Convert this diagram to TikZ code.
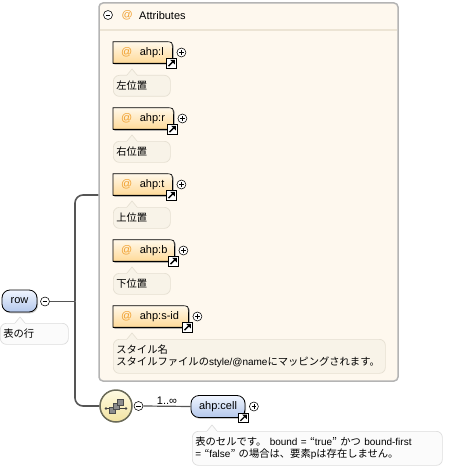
\documentclass[tikz,border=0pt]{standalone}
\usepackage{fontspec}
\setmainfont{Liberation Sans}
\newfontfamily\jpfont{Noto Sans CJK JP}
\usetikzlibrary{calc,shadows}
\pgfdeclarelayer{back}
\pgfdeclarelayer{bg}
\pgfsetlayers{back,bg,main}
\definecolor{panelfill}{HTML}{FEF8EE}
\definecolor{panelline}{HTML}{B4B4B4}
\definecolor{sepline}{HTML}{ECE4D4}
\definecolor{atcol}{HTML}{F0A030}
\definecolor{attrtop}{HTML}{FFF8EA}
\definecolor{attrbot}{HTML}{FFDA98}
\definecolor{eltop}{HTML}{F0F5FF}
\definecolor{elbot}{HTML}{B4C8EC}
\definecolor{annfill}{HTML}{F8F3E8}
\definecolor{annline}{HTML}{E6E0D2}
\definecolor{anntwofill}{HTML}{FBFBFB}
\definecolor{anntwoline}{HTML}{DDDDDD}
\definecolor{connc}{HTML}{555555}
\definecolor{seqtop}{HTML}{FFFBE2}
\definecolor{seqbot}{HTML}{F2E2A0}
\definecolor{seqline}{HTML}{6A6A58}
\definecolor{sqfill}{HTML}{8C8C8C}
\newcommand{\jp}[1]{{\jpfont\fontsize{10.3}{14}\selectfont #1}}
\newcommand{\lt}[1]{{\fontsize{10}{14}\selectfont #1}}
\newcommand{\attrlabel}[2]{\makebox[#1][l]{\textcolor{atcol}{@}\hspace{7.5pt}#2}}
\newcommand{\attrpath}[1]{(#1.south west) -- (#1.north west) -- ([xshift=-7pt]#1.north east) .. controls (#1.north east) .. ([yshift=-7pt]#1.north east) -- (#1.south east) -- cycle}
\newcommand{\attrshape}[1]{%
  \fill[black!45, transform canvas={shift={(1.3pt,-1.3pt)}}] \attrpath{#1};
  \shade[top color=attrtop, bottom color=attrbot] \attrpath{#1};
  \draw[black, line width=0.7pt] \attrpath{#1};
  \draw[black, line width=1.3pt] (#1.south west) -- (#1.south east);
}
\newcommand{\annptr}[4]{%
  \fill[#3] ($(#1.north west)+(#2-5,0.8)$) -- ($(#1.north west)+(#2,-6)$) -- ($(#1.north west)+(#2+5,0.8)$) -- cycle;
  \draw[#4, line width=0.7pt] ($(#1.north west)+(#2-5,0)$) -- ($(#1.north west)+(#2,-6)$) -- ($(#1.north west)+(#2+5,0)$);
}
\tikzset{
  conn/.style={draw=connc, line width=1.6pt},
  pmbase/.style={circle, draw=black, fill=white, line width=0.55pt, minimum size=9pt, inner sep=0pt},
  minusic/.style={pmbase, path picture={\draw[line width=0.6pt] ([xshift=-2.4pt]path picture bounding box.center) -- ([xshift=2.4pt]path picture bounding box.center);}},
  plusic/.style={pmbase, path picture={\draw[line width=0.6pt] ([xshift=-2.4pt]path picture bounding box.center) -- ([xshift=2.4pt]path picture bounding box.center) ([yshift=-2.4pt]path picture bounding box.center) -- ([yshift=2.4pt]path picture bounding box.center);}},
  linkic/.style={rectangle, draw=black, fill=white, line width=0.6pt, minimum size=9.5pt, inner sep=0pt,
    path picture={\fill[black] ([xshift=-1.4pt,yshift=-1.4pt]path picture bounding box.north east) -- ++(-4.6pt,0pt) -- ++(4.6pt,-4.6pt) -- cycle;
      \draw[black,line width=1.3pt] ([xshift=1.8pt,yshift=1.8pt]path picture bounding box.south west) -- ([xshift=-3pt,yshift=-3pt]path picture bounding box.north east);}},
  attrbox/.style={inner xsep=8pt, inner ysep=0pt, minimum height=21pt, anchor=west, font=\fontsize{11}{13}\selectfont},
  elbox/.style={rounded corners=8pt, top color=eltop, bottom color=elbot, draw=black, line width=0.8pt, minimum height=22pt, inner xsep=0pt, font=\fontsize{11}{13}\selectfont, drop shadow={shadow xshift=1pt, shadow yshift=-1.3pt, opacity=0.45}},
  annin/.style={rounded corners=6pt, fill=annfill, draw=annline, line width=0.7pt, anchor=north west, align=left, inner xsep=3pt, inner ysep=2pt, minimum height=21pt},
  annout/.style={rounded corners=6pt, fill=anntwofill, draw=anntwoline, line width=0.7pt, anchor=north west, align=left, inner xsep=3pt, inner ysep=2pt, minimum height=21pt},
  lbl/.style={inner sep=0pt, font=\fontsize{11}{13}\selectfont}
}
\begin{document}
\begin{tikzpicture}[x=1pt,y=-1pt]
\useasboundingbox (0,0) rectangle (466,468);
% panel
\begin{pgfonlayer}{back}
\node[draw=panelline, fill=panelfill, line width=1.5pt, rounded corners=4pt, minimum width=299pt, minimum height=378pt, inner sep=0pt] (attrs) at (248.5,192) {};
\draw[sepline, line width=1.2pt] (99.5,30) -- (397,30);
\end{pgfonlayer}
\node[minusic] (attrm) at (108,15) {};
\node[lbl, text=atcol, anchor=west] (attrat) at (121.5,15.5) {@};
\node[lbl, anchor=west] (attrt) at (139,15.5) {Attributes};
% attributes
\node[attrbox] (al) at (113,52.5) {\attrlabel{43pt}{ahp:l}};
\node[attrbox] (ar) at (113,118.5) {\attrlabel{44pt}{ahp:r}};
\node[attrbox] (at) at (113,184.5) {\attrlabel{43pt}{ahp:t}};
\node[attrbox] (ab) at (113,250.5) {\attrlabel{45pt}{ahp:b}};
\node[attrbox] (as) at (113,316.5) {\attrlabel{59pt}{ahp:s-id}};
\begin{pgfonlayer}{bg}
\attrshape{al}\attrshape{ar}\attrshape{at}\attrshape{ab}\attrshape{as}
\end{pgfonlayer}
\foreach \n in {al,ar,at,ab,as}{
  \node[linkic] (\n k) at ($(\n.south east)+(-1,0)$) {};
  \node[plusic] (\n p) at ($(\n.east)+(9,0)$) {};
}
% annotations in panel
\node[annin, text width=51pt] (ala) at (113,75) {\jp{左位置}};
\node[annin, text width=51pt] (ara) at (113,141) {\jp{右位置}};
\node[annin, text width=51pt] (ata) at (113,207) {\jp{上位置}};
\node[annin, text width=51pt] (aba) at (113,273) {\jp{下位置}};
\node[annin, text width=266pt, minimum height=34pt] (asa) at (113,339) {\jp{スタイル名}\\\jp{スタイルファイルの}\lt{style/@name}\jp{にマッピングされます。}};
\foreach \n in {ala,ara,ata,aba,asa}{\annptr{\n}{19}{annfill}{annline}}
% row
\node[elbox, minimum width=35pt] (row) at (19.5,301) {row};
\node[minusic] (rowm) at (45,301.5) {};
\node[annout, text width=62pt] (rowa) at (0,323) {\jp{表の行}};
\annptr{rowa}{20}{anntwofill}{anntwoline}
% sequence
\node[circle, minimum size=32pt, inner sep=0pt, top color=seqtop, bottom color=seqbot, draw=seqline, line width=1.5pt] (seq) at (116,406) {};
\draw[black!75, line width=0.8pt] ($(seq)+(-10,2.5)$) -- ($(seq)+(10,2.5)$);
\fill[black!75] ($(seq)+(-10,2.5)$) circle[radius=1.3pt] ($(seq)+(10,2.5)$) circle[radius=1.3pt];
\filldraw[fill=sqfill, draw=black!70, line width=0.5pt] ($(seq)+(-7,1)$) rectangle ($(seq)+(-1,7)$);
\filldraw[fill=sqfill, draw=black!70, line width=0.5pt] ($(seq)+(-3,-3)$) rectangle ($(seq)+(3,3)$);
\filldraw[fill=sqfill, draw=black!70, line width=0.5pt] ($(seq)+(1,-7)$) rectangle ($(seq)+(7,-1)$);
\node[minusic] (seqm) at (138.5,406) {};
% cell
\node[elbox, minimum width=54pt] (cell) at (218,406.5) {ahp:cell};
\node[linkic] (cellk) at ($(cell.south east)+(-2,0)$) {};
\node[plusic] (cellp) at ($(cell.east)+(8.5,0)$) {};
\node[annout, text width=244pt, minimum height=34pt] (cella) at (192,431) {\jp{表のセルです。}\lt{ bound = }\jp{“}\lt{true}\jp{”}\lt{ }\jp{かつ}\lt{ bound-first}\\\lt{= }\jp{“}\lt{false}\jp{”}\lt{ }\jp{の場合は、要素}\lt{p}\jp{は存在しません。}};
\annptr{cella}{20}{anntwofill}{anntwoline}
% connectors
\coordinate (jn) at (75,301.5);
\coordinate (attrin) at (attrs.west |- 0,195);
\draw[conn] (rowm.east) -- (jn);
\draw[conn, rounded corners=8pt] (jn) |- (attrin);
\draw[conn, rounded corners=8pt] (jn) |- (seq.west);
\draw[conn, line width=1.2pt] (seqm.east) -- node[lbl, above=1.5pt, font=\fontsize{11}{13}\selectfont] (mult) {1..∞} (cell.west);
\end{tikzpicture}
\end{document}
